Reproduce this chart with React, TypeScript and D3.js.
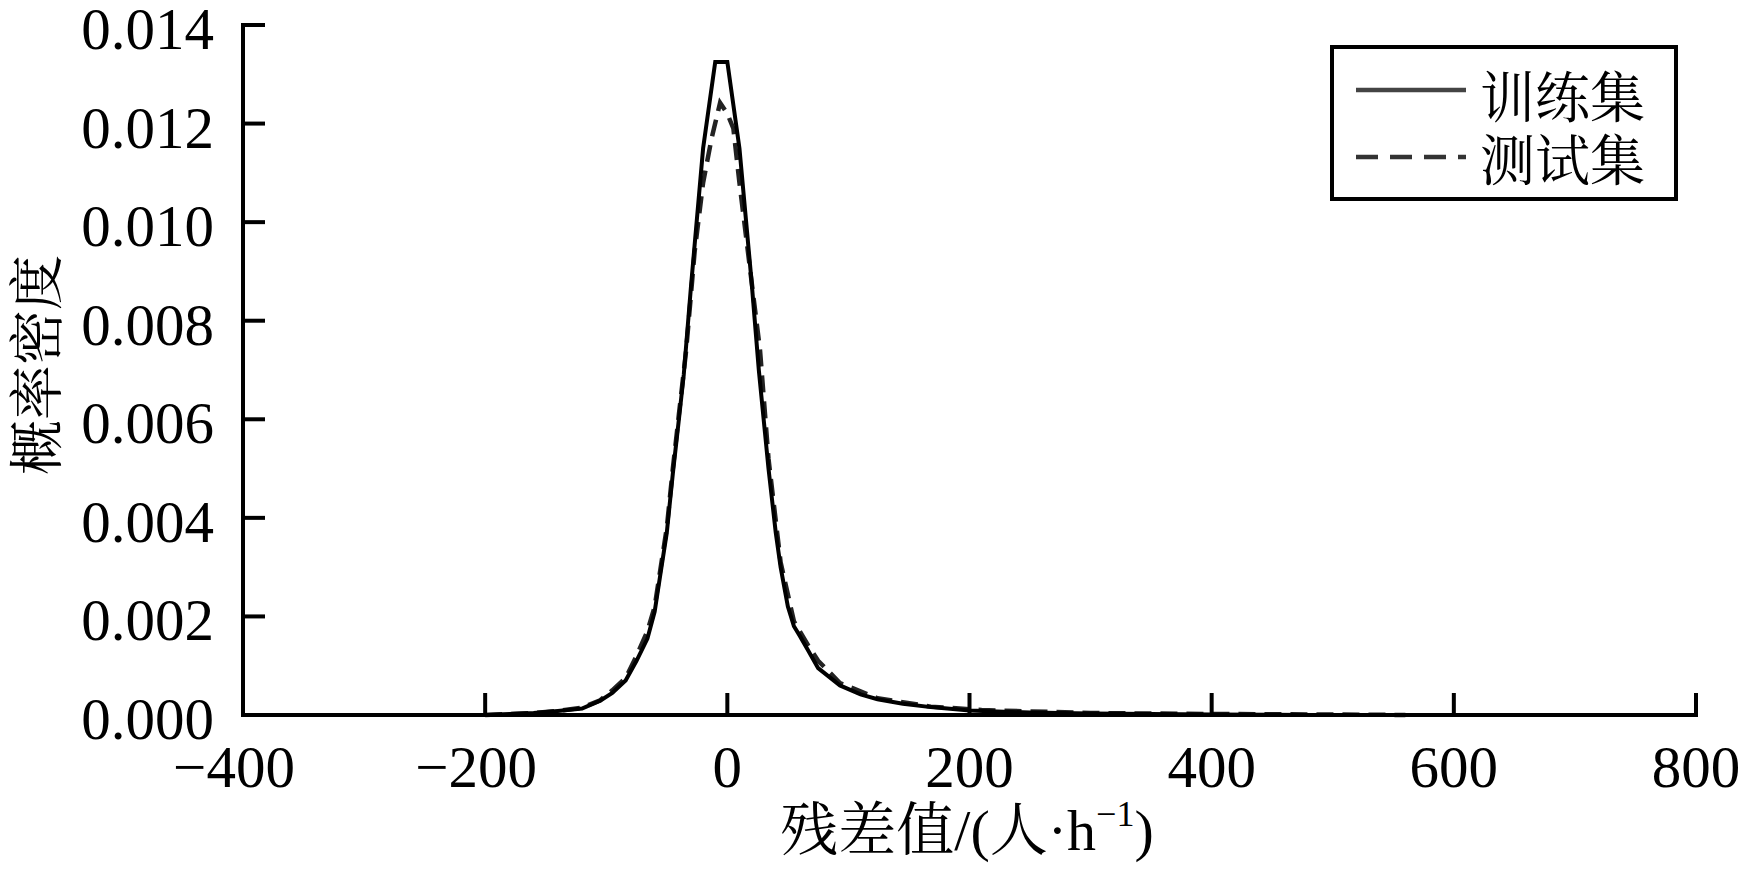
import React from "react";
import * as d3 from "d3";

const trainX = [-200, -180, -160, -140, -120, -105, -95, -84, -75, -66, -60, -55, -50, -45, -40, -36, -30, -20, -10, 0, 10, 20, 26, 34, 40, 44, 50, 55, 60, 67, 75, 93, 110, 124, 145, 168, 200, 250, 300, 400, 480];
const trainY = [0.0, 0.00002, 0.00004, 0.00008, 0.00013, 0.00029, 0.00045, 0.0007, 0.0011, 0.00155, 0.0021, 0.0029, 0.0037, 0.0049, 0.006, 0.0069, 0.0087, 0.0115, 0.01325, 0.01325, 0.0115, 0.0088, 0.007, 0.005, 0.0037, 0.003, 0.0022, 0.0018, 0.0016, 0.0013, 0.00095, 0.0006, 0.00042, 0.00032, 0.00023, 0.00016, 0.00009, 0.00005, 0.00003, 0.00001, 0.0];

const testX = [-200, -160, -140, -120, -105, -95, -84, -75, -66, -60, -55, -50, -45, -40, -34, -27, -20, -13, -6, 0, 5, 10, 17, 27, 34, 44, 55, 67, 75, 93, 124, 168, 210, 300, 400, 500, 560];
const testY = [0.0, 0.00004, 0.00008, 0.00015, 0.0003, 0.0005, 0.00075, 0.0012, 0.0017, 0.0022, 0.003, 0.0038, 0.005, 0.0061, 0.0074, 0.0094, 0.0108, 0.0117, 0.01242, 0.0122, 0.0119, 0.0108, 0.0094, 0.0074, 0.0052, 0.0031, 0.0019, 0.0014, 0.0011, 0.00065, 0.00034, 0.00017, 0.0001, 0.00004, 0.00002, 0.00001, 0.0];

const xTicks = [-400, -200, 0, 200, 400, 600, 800];
const yTicks = [0, 0.002, 0.004, 0.006, 0.008, 0.01, 0.012, 0.014];
const seriesNames = ["训练集", "测试集"];

const W = 1744;
const H = 874;
const latin = "'Liberation Serif', 'Times New Roman', serif";
const cjk = "'Noto Serif CJK SC', 'Noto Sans CJK SC', serif";

export default function App() {
  const x = d3.scaleLinear().domain([-400, 800]).range([243, 1696]);
  const y = d3.scaleLinear().domain([0, 0.014]).range([715, 25]);
  const line = d3
    .line<[number, number]>()
    .x((d) => x(d[0]))
    .y((d) => y(d[1]))
    .curve(d3.curveLinear);
  const train = trainX.map((v, i) => [v, trainY[i]] as [number, number]);
  const test = testX.map((v, i) => [v, testY[i]] as [number, number]);
  const x0 = x(-400);
  const y0 = y(0);
  const tickLen = 22;

  return (
    <svg
      width={W}
      height={H}
      viewBox={`0 0 ${W} ${H}`}
      style={{ position: "absolute", left: 0, top: 0, background: "#fff" }}
    >
      <rect x={0} y={0} width={W} height={H} fill="#fff" />
      {/* curves */}
      <path d={line(test) || ""} fill="none" stroke="#222" strokeWidth={4.5} strokeDasharray="17,9" />
      <path d={line(train) || ""} fill="none" stroke="#000" strokeWidth={4} strokeLinejoin="miter" />

      {/* axes */}
      <line x1={x0} x2={x0} y1={y(0.014) - 2} y2={y0 + 2} stroke="#000" strokeWidth={4} />
      <line x1={x0 - 2} x2={x(800) + 2} y1={y0} y2={y0} stroke="#000" strokeWidth={4} />
      {yTicks.map((t) => (
        <g key={"y" + t}>
          <line x1={x0} x2={x0 + tickLen} y1={y(t)} y2={y(t)} stroke="#000" strokeWidth={4} />
          <text
            x={x0 - 29}
            y={y(t) + 24}
            textAnchor="end"
            fontFamily={latin}
            fontSize={59}
            fill="#000"
          >
            {t.toFixed(3)}
          </text>
        </g>
      ))}
      {xTicks.map((t) => (
        <g key={"x" + t}>
          <line x1={x(t)} x2={x(t)} y1={y0} y2={y0 - tickLen} stroke="#000" strokeWidth={4} />
          <text
            x={x(t) + (t < 0 ? -9 : 0)}
            y={787}
            textAnchor="middle"
            fontFamily={latin}
            fontSize={59}
            fill="#000"
          >
            {t < 0 ? "\u2212" + Math.abs(t) : String(t)}
          </text>
        </g>
      ))}

      {/* axis titles */}
      <text
        transform={`translate(32, 365) rotate(-90)`}
        textAnchor="middle"
        dominantBaseline="central"
        fontFamily={cjk}
        fontSize={55}
        fill="#000"
      >
        概率密度
      </text>
      <text x={967} y={850} textAnchor="middle" fontSize={58} fill="#000" fontFamily={latin}>
        <tspan fontFamily={cjk}>残差值</tspan>
        <tspan>/(</tspan>
        <tspan fontFamily={cjk}>人</tspan>
        <tspan>·h</tspan>
        <tspan fontSize={36} dy={-24}>{"\u22121"}</tspan>
        <tspan dy={24}>)</tspan>
      </text>

      {/* legend */}
      <rect x={1332} y={47} width={344} height={152} fill="#fff" stroke="#000" strokeWidth={4} />
      <line x1={1356} x2={1466} y1={90} y2={90} stroke="#444" strokeWidth={4.5} />
      <line x1={1356} x2={1466} y1={157} y2={157} stroke="#333" strokeWidth={4.5} strokeDasharray="22,12" />
      <text x={1480} y={93} dominantBaseline="central" fontFamily={cjk} fontSize={55} fill="#000">
        {seriesNames[0]}
      </text>
      <text x={1480} y={156} dominantBaseline="central" fontFamily={cjk} fontSize={55} fill="#000">
        {seriesNames[1]}
      </text>
    </svg>
  );
}
